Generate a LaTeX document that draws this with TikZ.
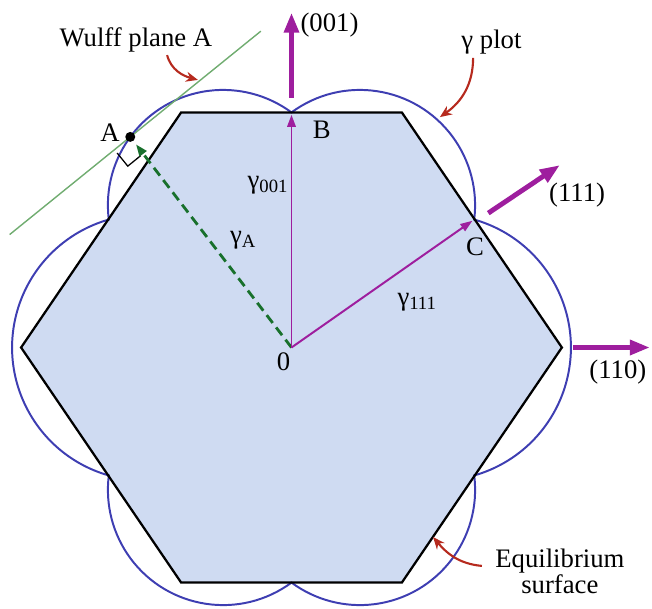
\documentclass[tikz,border=0pt]{standalone}
\usepackage{fontspec}
\setmainfont{Liberation Serif}
\usetikzlibrary{arrows.meta,calc}
\definecolor{crystal}{RGB}{207,219,242}
\definecolor{gplot}{RGB}{62,62,178}
\definecolor{vecmag}{RGB}{158,30,158}
\definecolor{leaf}{RGB}{112,172,112}
\definecolor{pine}{RGB}{24,112,44}
\definecolor{rust}{RGB}{182,42,30}
\tikzset{
  >={Stealth[length=2.6mm]},
  note/.style={font=\fontsize{19}{19}\selectfont,inner sep=0pt,align=center},
  vec/.style={draw=#1,line width=1.4pt,-{Triangle[length=3mm,width=2.1mm]}},
  vec/.default=vecmag,
  facet normal/.style={draw=vecmag,line width=3.5pt,-{Triangle[length=5mm,width=3.6mm]}},
  pointer/.style={draw=rust,line width=1.5pt,-{Stealth[length=3mm,width=2.5mm]}},
}

\begin{document}
\begin{tikzpicture}
    \useasboundingbox (-7.2875,-6.5125) rectangle (9.0125,8.6875);
    \coordinate (O) at (0,0);
    \coordinate (B) at (0,5.877);
    \coordinate (C) at (4.567,3.199);
    \coordinate (A) at (-4.031,5.265);
    % equilibrium shape and gamma plot
    \fill[crystal] (-2.76,5.875) -- (2.76,5.875) -- (6.76,0) -- (2.76,-5.875)
      -- (-2.76,-5.875) -- (-6.76,0) -- cycle;
    \draw[gplot,line width=1.4pt] (B)
      arc[start angle=126.42,end angle=-7.2,radius=2.88]
      arc[start angle=74.17,end angle=-74.17,radius=3.325]
      arc[start angle=7.2,end angle=-126.42,radius=2.88]
      arc[start angle=-53.58,end angle=-187.2,radius=2.88]
      arc[start angle=-105.83,end angle=-254.17,radius=3.325]
      arc[start angle=187.2,end angle=53.58,radius=2.88] -- cycle;
    \draw[line width=1.6pt] (-2.76,5.875) -- (2.76,5.875) -- (6.76,0) -- (2.76,-5.875)
      -- (-2.76,-5.875) -- (-6.76,0) -- cycle;
    % Wulff plane through A
    \coordinate (w1) at ($(A)+(219:3.88)$);
    \coordinate (w2) at ($(A)+(39:4.2)$);
    \draw[leaf,line width=1pt] (w1) -- (w2);
    \coordinate (foot) at ($(A)+(0,-0.14)$);
    \draw[line width=0.9pt] ($(foot)+(219:0.42)$) -- ($(foot)+(219:0.42)+(309:0.42)$) -- ($(foot)+(309:0.42)$);
    \draw[vec=pine,line width=2pt,dash pattern=on 7pt off 4pt] (O) -- ($(O)!0.965!(A)$);
    \node[circle,fill=black,inner sep=0pt,minimum size=2.5mm] (dotA) at (A) {};
    \draw[vec] (O) -- ($(O)!0.99!(B)$);
    \draw[vec] (O) -- ($(O)!0.99!(C)$);
    % surface normals
    \coordinate (n001a) at (0,6.24);    \coordinate (n001b) at (0,8.37);
    \coordinate (n111a) at (4.92,3.36); \coordinate (n111b) at (6.71,4.56);
    \coordinate (n110a) at (7.045,0);   \coordinate (n110b) at (8.96,0);
    \foreach \s/\e in {n001a/n001b,n111a/n111b,n110a/n110b}
      \draw[facet normal] (\s) -- (\e);
    % labels
    \node[note] (lw) at (-3.89,7.69) {Wulff plane A};
    \node[note] (lg) at (5.0,7.64) {γ plot};
    \node[note] (la) at (-4.54,5.36) {A};
    \node[note] (lb) at (0.76,5.44) {B};
    \node[note] (lc) at (4.59,2.52) {C};
    \node[note] (l0) at (-0.2,-0.36) {0};
    \node[note] (g001) at (-0.59,4.06) {γ\textsubscript{001}};
    \node[note] (gA) at (-1.21,2.69) {γ\textsubscript{A}};
    \node[note] (g111) at (3.14,1.14) {γ\textsubscript{111}};
    \node[note] (d001) at (0.95,8.05) {(001)};
    \node[note] (d111) at (7.14,3.81) {(111)};
    \node[note] (d110) at (8.16,-0.61) {(110)};
    \node[note] (leq) at (6.71,-5.6) {Equilibrium\\surface};
    % pointers
    \coordinate (pw0) at (-3.11,7.31); \coordinate (pw1) at (-2.34,6.69);
    \coordinate (pg0) at (4.54,7.24);  \coordinate (pg1) at (3.71,5.76);
    \coordinate (pe0) at (4.76,-5.46); \coordinate (pe1) at (3.54,-4.74);
    \draw[pointer] (pw0) to[out=-75,in=165] (pw1);
    \draw[pointer] (pg0) to[out=-90,in=35] (pg1);
    \draw[pointer] (pe0) to[out=175,in=-50] (pe1);
\end{tikzpicture}
\end{document}
